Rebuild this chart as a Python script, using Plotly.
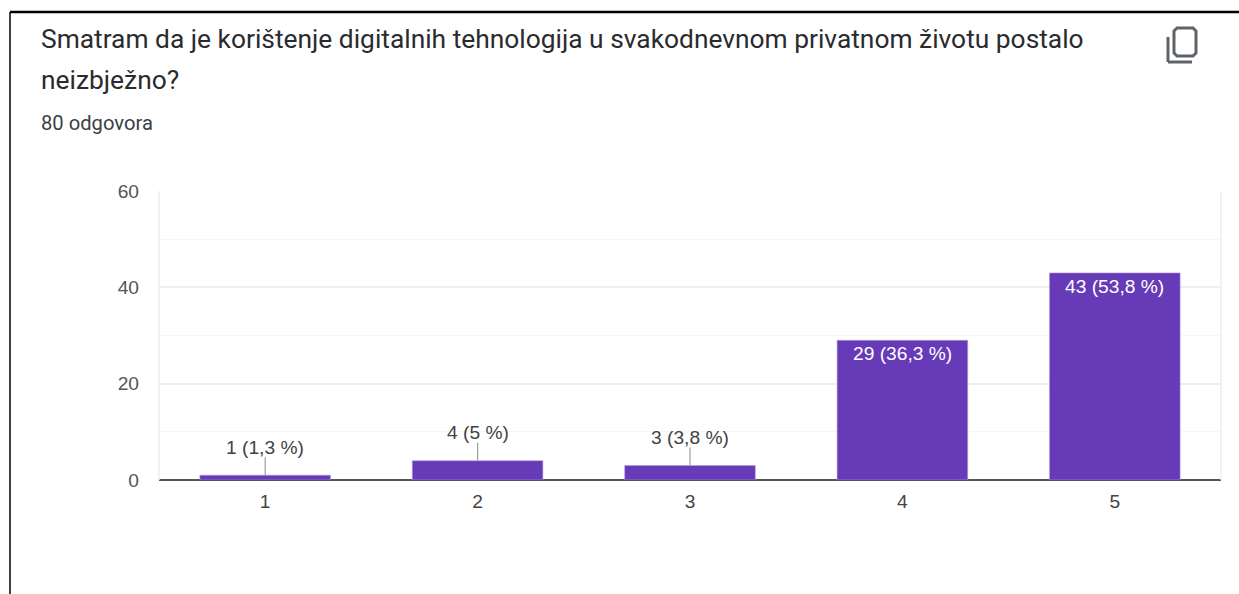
import plotly.graph_objects as go

categories = ["1", "2", "3", "4", "5"]
counts = [1, 4, 3, 29, 43]
labels = ["1 (1,3 %)", "4 (5 %)", "3 (3,8 %)", "29 (36,3 %)", "43 (53,8 %)"]
y_ticks = [0, 20, 40, 60]
title_lines = ["Smatram da je korištenje digitalnih tehnologija u svakodnevnom privatnom životu postalo", "neizbježno?"]
subtitle = "80 odgovora"

W, H = 1239, 594
L, R, T, B = 159, 18, 191, 114
PW, PH = W - L - R, H - T - B
PURPLE = "#673ab7"
FS = 19.2
INSIDE_MIN = 10      # bars at least this tall hold their label inside
LEADER_PX = 18
LABEL_OFFSET_PX = 28

def px(x):
    return (x - L) / PW

def py(y):
    return (H - B - y) / PH

fig = go.Figure(go.Bar(x=categories, y=counts, marker=dict(color=PURPLE, line=dict(color="#b39ddb", width=0.6)),
                       width=0.615, hoverinfo="skip"))

ann = []
leaders = []
for i, (v, lab) in enumerate(zip(counts, labels)):
    if v < INSIDE_MIN:
        ann.append(dict(x=i, y=v, xref="x", yref="y", text=lab, showarrow=False, yanchor="middle",
                        yshift=LABEL_OFFSET_PX, font=dict(family="Liberation Sans", size=FS, color="#424242")))
        leaders.append(dict(type="line", xref="x", yref="y", ysizemode="pixel", yanchor=v, x0=i, x1=i,
                            y0=0, y1=LEADER_PX, line=dict(color="#9e9e9e", width=1.2), layer="above"))
    else:
        ann.append(dict(x=i, y=v, xref="x", yref="y", text=lab, showarrow=False, yanchor="top", yshift=-1,
                        font=dict(family="Liberation Sans", size=FS, color="#ffffff")))

ann += [
    dict(x=px(39), y=py(39), xref="paper", yref="paper", text=title_lines[0], showarrow=False, xanchor="left",
         yanchor="middle", font=dict(family="Roboto", size=26.35, color="#2a2b2e")),
    dict(x=px(39), y=py(80), xref="paper", yref="paper", text=title_lines[1], showarrow=False, xanchor="left",
         yanchor="middle", font=dict(family="Roboto", size=26.35, color="#2a2b2e")),
    dict(x=px(39), y=py(123), xref="paper", yref="paper", text=subtitle, showarrow=False, xanchor="left",
         yanchor="middle", font=dict(family="Roboto", size=20.2, color="#3c4043")),
]

def frame_line(x0, y0, x1, y1, color, width):
    return dict(type="line", xref="paper", yref="paper", x0=px(x0), y0=py(y0), x1=px(x1), y1=py(y1),
                line=dict(color=color, width=width), layer="above")

def icon_path():
    a, b, c, d, r = 1174, 28, 1196, 56, 3
    pts = [(a + r, b), (c - r, b), (c, b + r), (c, d - r), (c - r, d), (a + r, d), (a, d - r), (a, b + r)]
    return "M" + " L".join(f"{px(x):.5f},{py(y):.5f}" for x, y in pts) + " Z"

shapes = [
    frame_line(10, 12, 1239, 12, "#000000", 2.5),
    frame_line(10, 12, 10, 594, "#000000", 1.5),
    frame_line(159, 191, 159, 480, "#eeeeee", 1.5),
    frame_line(1221, 191, 1221, 480, "#eeeeee", 1.5),
    dict(type="path", xref="paper", yref="paper", path=icon_path(), line=dict(color="#5f6368", width=3)),
    frame_line(1168, 37, 1168, 62, "#5f6368", 3),
    frame_line(1168, 62, 1192, 62, "#5f6368", 3),
] + leaders

fig.update_layout(
    width=W, height=H, autosize=False,
    margin=dict(l=L, r=R, t=T, b=B, pad=0),
    paper_bgcolor="#ffffff", plot_bgcolor="#ffffff",
    showlegend=False, annotations=ann, shapes=shapes,
    font=dict(family="Liberation Sans", size=FS, color="#444444"),
    xaxis=dict(type="category", range=[-0.5, 4.5], showgrid=False, ticks="", ticklabelstandoff=8,
               showline=False, zeroline=False, tickfont=dict(size=FS, color="#444444")),
    yaxis=dict(range=[0, 60], tickvals=y_ticks, gridcolor="#eeeeee", gridwidth=1.5, ticks="",
               ticklabelstandoff=19,
               minor=dict(tickvals=[10, 30, 50], showgrid=True, gridcolor="#f6f6f6", gridwidth=1),
               zeroline=True, zerolinecolor="#555555", zerolinewidth=2, showline=False,
               tickfont=dict(size=FS, color="#555555")),
)

fig.write_html("out.html", config=dict(displayModeBar=False),
               post_script="document.body.style.margin='0';document.documentElement.style.overflow='hidden';")
